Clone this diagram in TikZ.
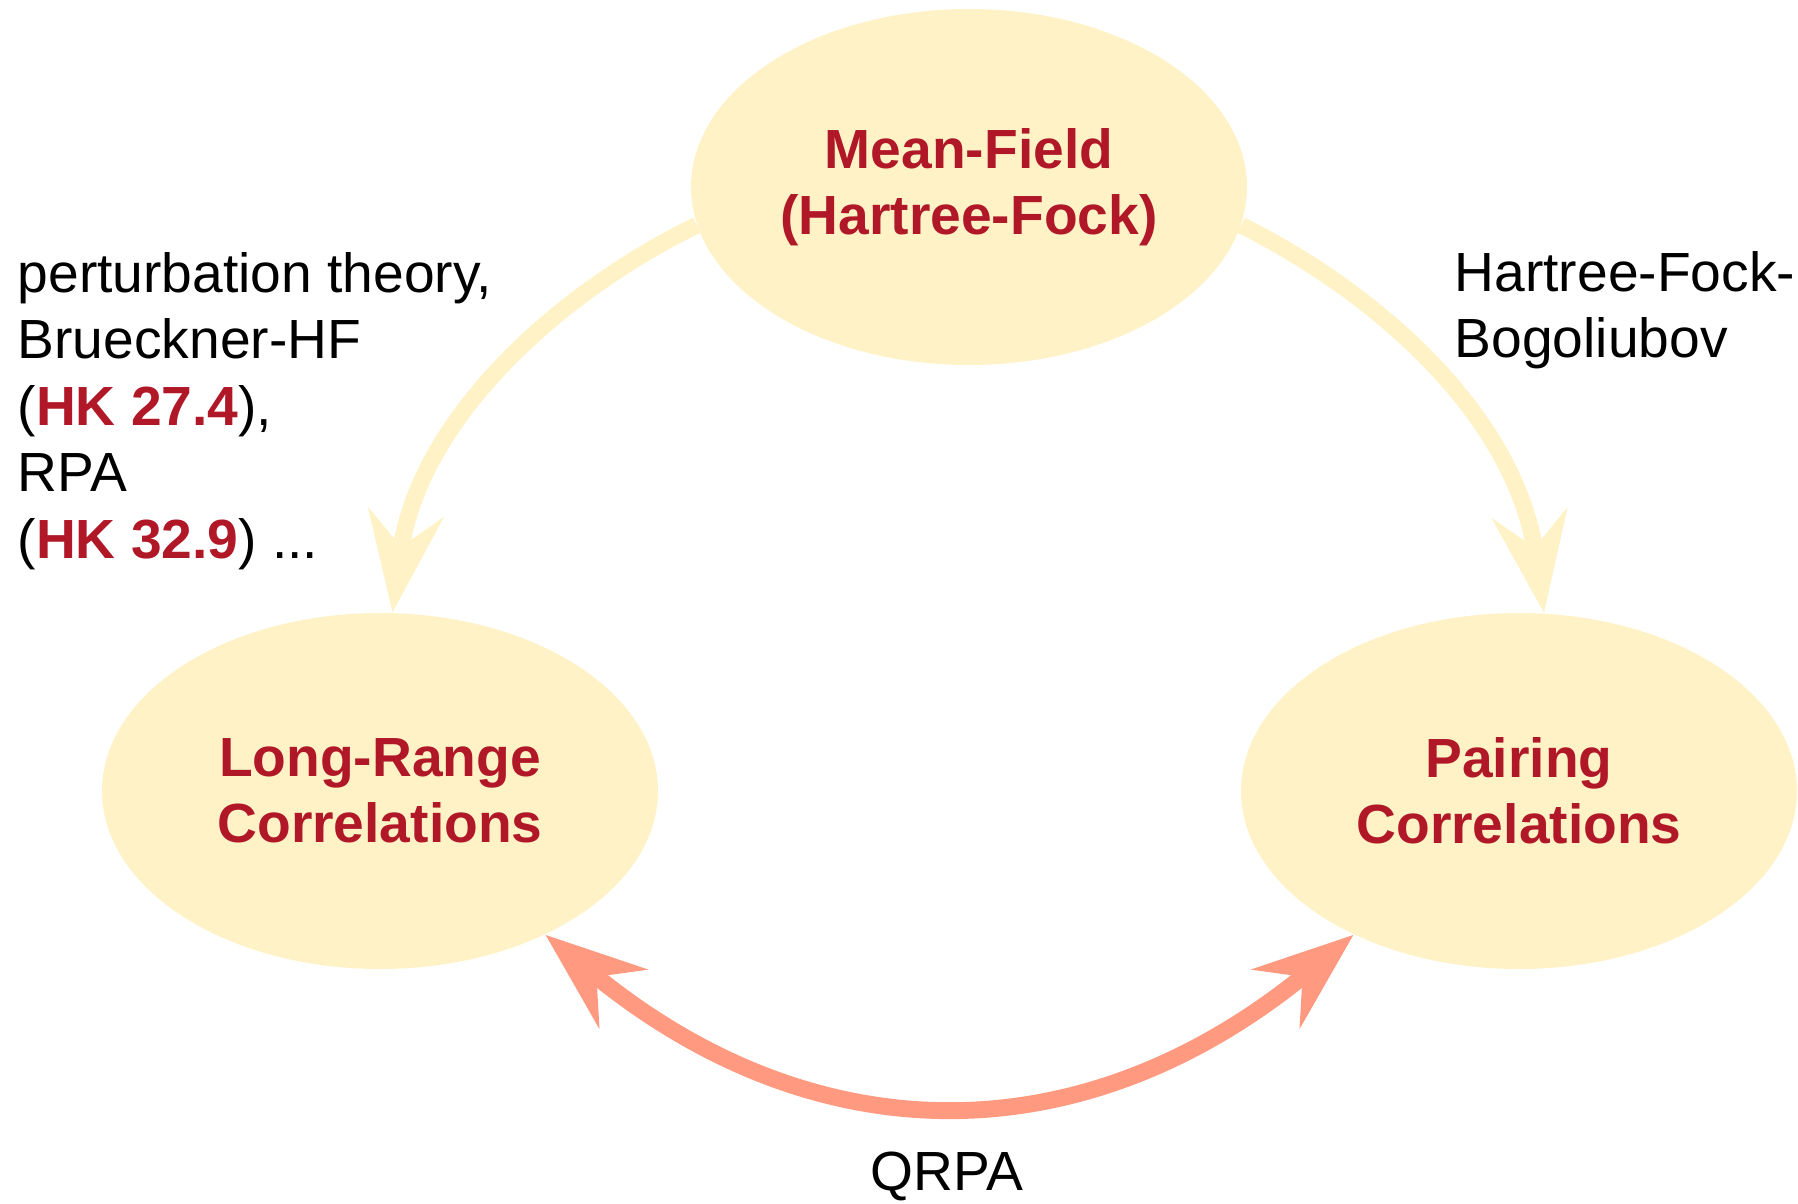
\documentclass[tikz,border=0pt]{standalone}
\usepackage{fontspec}
\setmainfont{Liberation Sans}
\usetikzlibrary{shapes.geometric,arrows.meta,backgrounds}

\definecolor{paleyellow}{RGB}{255,242,198}
\definecolor{salmon}{RGB}{255,154,128}
\definecolor{darkred}{RGB}{176,24,40}

\begin{document}
\begin{tikzpicture}[
    blob/.style={ellipse, fill=paleyellow, minimum width=5.56cm, minimum height=3.56cm,
        inner sep=0pt, align=center, text=darkred, font=\fontsize{15.7}{18.9}\selectfont\bfseries},
    note/.style={inner sep=0pt, align=left, font=\fontsize{15.7}{18.9}\selectfont},
    yarrow/.style={draw=paleyellow, line width=4.8pt,
        -{Stealth[length=1cm, width=0.75cm, inset=0.34cm]}},
    sarrow/.style={draw=salmon, line width=4.8pt,
        {Stealth[length=1cm, width=0.75cm, inset=0.34cm]}-{Stealth[length=1cm, width=0.75cm, inset=0.34cm]}}
]
    \useasboundingbox (0,0) rectangle (17.98,-12.04);

    % Draw the three ellipses
    \node[blob] (mf) at (9.69,-1.87) {Mean-Field\\(Hartree-Fock)};
    \node[blob] (lr) at (3.80,-7.91) {Long-Range\\Correlations};
    \node[blob] (pc) at (15.19,-7.91) {Pairing\\Correlations};

    % Draw arrows behind the ellipses
    \begin{pgfonlayer}{background}
        \draw[yarrow] (mf.188) .. controls +(-1.36,-0.66) and +(0.26,1.95) .. (lr.86);
        \draw[yarrow] (mf.352) .. controls +(1.40,-0.70) and +(-0.28,1.95) .. (pc.82);
        \draw[sarrow] (lr.319) .. controls +(2.70,-2.22) and +(-2.70,-2.22) .. (pc.221);
    \end{pgfonlayer}

    % Arrow labels
    % -- left side
    \node[note, anchor=west] (lrtext) at (0.17,-4.11) {perturbation theory,\\Brueckner-HF\\(\textcolor{darkred}{\textbf{HK 27.4}}),\\RPA\\(\textcolor{darkred}{\textbf{HK 32.9}}) ...};

    % -- right side
    \node[note, anchor=west] (pctext) at (14.54,-3.10) {Hartree-Fock-\\Bogoliubov};

    % -- bottom
    \node[note] (qrpa) at (9.47,-11.76) {QRPA};
\end{tikzpicture}
\end{document}
